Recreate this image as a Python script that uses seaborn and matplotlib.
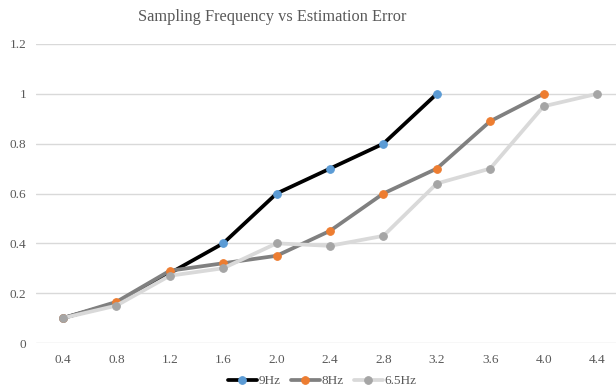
import matplotlib
matplotlib.use("Agg")
import matplotlib.pyplot as plt
import seaborn as sns
import pandas as pd

categories = ["0.4", "0.8", "1.2", "1.6", "2.0", "2.4", "2.8", "3.2", "3.6", "4.0", "4.4"]
hz9 = [0.10, 0.16, 0.28, 0.40, 0.60, 0.70, 0.80, 1.00]
hz8 = [0.10, 0.165, 0.29, 0.32, 0.35, 0.45, 0.60, 0.70, 0.89, 1.00]
hz65 = [0.10, 0.15, 0.27, 0.30, 0.40, 0.39, 0.43, 0.64, 0.70, 0.95, 1.00]
y_ticks = [0, 0.2, 0.4, 0.6, 0.8, 1, 1.2]
y_labels = ["0", "0.2", "0.4", "0.6", "0.8", "1", "1.2"]

sns.set_theme(style="white")
plt.rcParams["font.family"] = ["Liberation Serif", "DejaVu Serif"]

fig = plt.figure(figsize=(6.16, 3.87), dpi=100)
W, H = 616, 387
left, right = 36.3, 623.7
bottom, top = 343, 44
ax = fig.add_axes([left / W, (H - bottom) / H, (right - left) / W, (bottom - top) / H])

series = [
    ("9Hz", hz9, "#000000", "#5B9BD5"),
    ("8Hz", hz8, "#808080", "#ED7D31"),
    ("6.5Hz", hz65, "#D9D9D9", "#A5A5A5"),
]
for name, vals, lc, mc in series:
    df = pd.DataFrame({"x": list(range(len(vals))), "y": vals})
    sns.lineplot(data=df, x="x", y="y", ax=ax, color=lc, linewidth=2.7,
                 marker="o", markersize=5.5, markerfacecolor=mc,
                 markeredgecolor=mc, label=name, clip_on=False)

ax.set_xlim(-0.5, len(categories) - 0.5)
ax.set_ylim(0, 1.2)
ax.set_xticks(range(len(categories)))
ax.set_xticklabels(categories)
ax.set_yticks(y_ticks)
ax.set_yticklabels(y_labels)
ax.set_xlabel("")
ax.set_ylabel("")
ax.grid(axis="y", color="#D9D9D9", linewidth=1)
ax.set_axisbelow(True)
for s in ax.spines.values():
    s.set_visible(False)
ax.tick_params(axis="both", length=0, labelsize=9.5, colors="#595959")
ax.tick_params(axis="x", pad=8)
ax.tick_params(axis="y", pad=7)

fig.text(272 / W, (H - 17) / H, "Sampling Frequency vs Estimation Error",
         ha="center", va="center", fontsize=11.8, color="#595959")

leg = ax.legend(loc="center", bbox_to_anchor=(322 / W, (H - 381) / H),
                bbox_transform=fig.transFigure, ncol=3, frameon=False,
                fontsize=9.5, handlelength=2.2, columnspacing=0.8,
                handletextpad=0.1, borderaxespad=0)
for t in leg.get_texts():
    t.set_color("#595959")

fig.savefig("out.png", dpi=100)
